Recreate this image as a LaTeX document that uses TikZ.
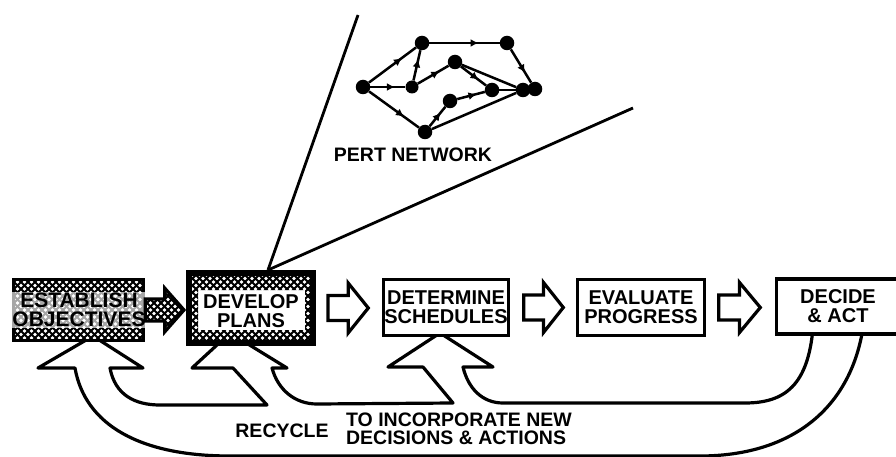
\documentclass[tikz,border=0pt]{standalone}
\usepackage{fontspec}
\setmainfont{Liberation Sans}
\usetikzlibrary{patterns,calc,decorations.markings,arrows.meta}

% black diagonal mesh leaving small white diamonds
\pgfdeclarepatternformonly{mesh}{\pgfqpoint{-1pt}{-1pt}}{\pgfqpoint{8pt}{8pt}}{\pgfqpoint{7pt}{7pt}}{%
  \pgfsetlinewidth{2.1pt}%
  \pgfpathmoveto{\pgfqpoint{-1pt}{-1pt}}\pgfpathlineto{\pgfqpoint{8pt}{8pt}}%
  \pgfpathmoveto{\pgfqpoint{-1pt}{8pt}}\pgfpathlineto{\pgfqpoint{8pt}{-1pt}}%
  \pgfusepath{stroke}}

\tikzset{
  boxtext/.style={font=\fontsize{20}{19}\selectfont\bfseries, align=center},
  stagebox/.style={draw, line width=3.4pt, inner sep=0pt, boxtext},
  event/.style={circle, fill=black, inner sep=0pt, minimum size=14.5pt},
  plainact/.style={line width=2.5pt},
  act/.style={line width=2.5pt, postaction={decorate},
    decoration={markings, mark=at position 0.7 with {\arrow{Latex[length=8pt,width=8pt]}}}},
  label19/.style={font=\fontsize{19.5}{18}\selectfont\bfseries},
  outline/.style={line width=3.2pt, fill=white, line join=round},
}

% hollow block arrow between two stage boxes:
% #1 style, #2 from node, #3 to node, #4 start gap, #5 end gap, #6 shaft half height, #7 head half height
\newcommand\flowarrow[7]{%
  \draw[#1] let \p1=($(#2.east)+(#4,0)$), \p2=($(#3.west)+(-#5,0)$), \n1={(\x2-\x1)/2} in
    (\x1,\y1+#6pt) -- (\x1+\n1*1pt,\y1+#6pt) -- (\x1+\n1*1pt,\y1+#7pt) -- (\x2,\y1)
    -- (\x1+\n1*1pt,\y1-#7pt) -- (\x1+\n1*1pt,\y1-#6pt) -- (\x1,\y1-#6pt) -- cycle;}

\begin{document}
\begin{tikzpicture}[x=1pt,y=-1pt]
\useasboundingbox (0,0) rectangle (896,457);

% branching feedback arrow from DECIDE & ACT back to the earlier stages
\draw[outline]
  (813,328) .. controls (808,385) and (785,403) .. (745,403)
  -- (503,403) .. controls (482,403) and (468,388) .. (463,367)
  -- (493,367) -- (440,333) -- (388,367) -- (423,367) -- (453,403)
  -- (317,404) .. controls (295,404) and (278,390) .. (272,368)
  -- (287,368) -- (230,333) -- (192,368) -- (233,368) -- (267,405)
  -- (160,405) .. controls (135,405) and (115,395) .. (110,368)
  -- (143,368) -- (93,336) -- (38,368) -- (75,368)
  .. controls (85,425) and (140,456) .. (230,456)
  -- (700,456) .. controls (790,456) and (850,410) .. (863,328) -- cycle;

% PERT network
\node[event] (ps) at (363,87) {};
\node[event] (pa) at (422,43) {};
\node[event] (pb) at (507,43) {};
\node[event, minimum size=13pt] (pc) at (412,87) {};
\node[event] (pd) at (455,62) {};
\node[event] (pe) at (492,90) {};
\node[event] (pf) at (450,101) {};
\node[event] (pg) at (425,132) {};
\node[event] (ph) at (523,90) {};
\node[event] (pi) at (535,89) {};
\draw[act] (ps) -- (pa);
\draw[act] (ps) -- (pc);
\draw[act] (ps) -- (pg);
\draw[act] (pc) -- (pa);
\draw[act] (pa) -- (pb);
\draw[act] (pc) -- (pd);
\draw[act] (pd) -- (pe);
\draw[plainact] (pd) -- (ph);
\draw[act] (pb) -- (pi);
\draw[plainact] (pe) -- (ph);
\draw[act] (pg) -- (pf);
\draw[act] (pf) -- (pe);
\draw[plainact] (pg) -- (ph);
\node[label19] (pertlbl) at (413,155) {PERT NETWORK};

% stage boxes
\node[stagebox, pattern=mesh, preaction={fill=white}, minimum width=130pt, minimum height=61pt] (est) at (78.5,310) {};
\node[font=\fontsize{21}{19.5}\selectfont\bfseries, align=center, fill=white, fill opacity=0.65, text opacity=1, inner sep=0.5pt] (esttxt) at (79,310) {ESTABLISH\\OBJECTIVES};

% detail lines opening up from DEVELOP PLANS
\coordinate (za) at (358,15);
\coordinate (zb) at (633,108);
\coordinate (apex) at (268,270);
\draw[line width=2.8pt] (apex) -- (za);
\draw[line width=2.8pt] (apex) -- (zb);

\node[draw, line width=6pt, fill=white, inner sep=0pt, minimum width=124pt, minimum height=70pt] (dev) at (251,308) {};
\fill[pattern=mesh, even odd rule] (192,276) rectangle (310,340) (198,290) rectangle (305,330);
\node[boxtext, inner sep=0pt] (devtxt) at (251,311) {DEVELOP\\PLANS};

\flowarrow{line width=3.2pt, pattern=mesh, preaction={fill=white}}{est}{dev}{0}{2}{11}{22}

\node[stagebox, fill=white, minimum width=125pt, minimum height=56pt] (det) at (446,307.5) {DETERMINE\\SCHEDULES};
\node[stagebox, fill=white, minimum width=127pt, minimum height=56pt] (eva) at (641,307.5) {EVALUATE\\PROGRESS};
\node[stagebox, fill=white, minimum width=123pt, minimum height=55pt] (dec) at (838,306.5) {DECIDE\\\& ACT};

\flowarrow{line width=3.2pt, fill=white}{dev}{det}{12}{13.5}{12.5}{25}
\flowarrow{line width=3.2pt, fill=white}{det}{eva}{13.5}{12.5}{12.5}{25}
\flowarrow{line width=3.2pt, fill=white}{eva}{dec}{12.5}{14.5}{12.5}{25}

% captions of the feedback arrow
\node[label19] (recycle) at (282,431) {RECYCLE};
\node[label19, align=left] (purpose) at (459,429) {TO INCORPORATE NEW\\DECISIONS \& ACTIONS};
\end{tikzpicture}
\end{document}
